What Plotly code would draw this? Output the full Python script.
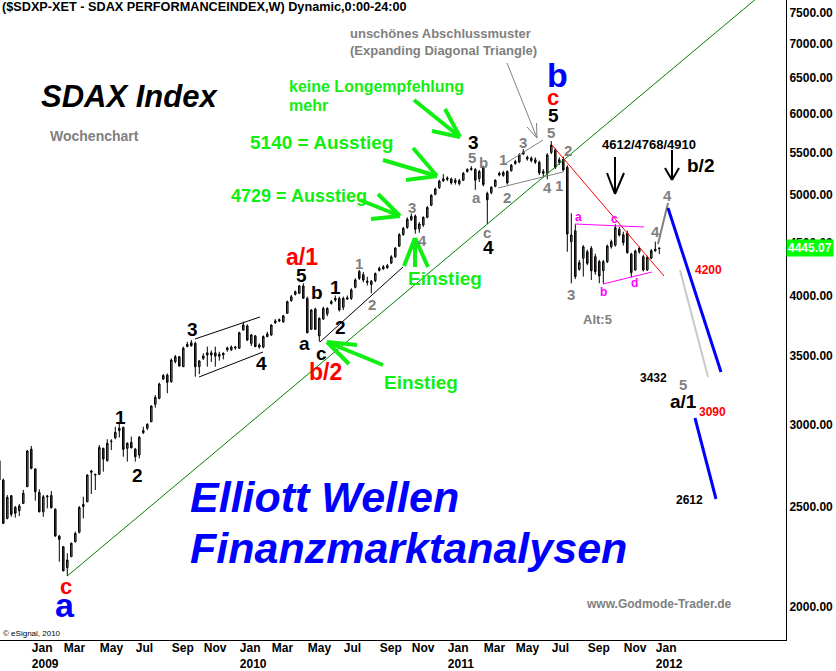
import datetime as dt
import math
import plotly.graph_objects as go

# ---------------- data (weekly bars, first bar = week of 2008-11-10) ----------------
first_week = dt.datetime(2008, 11, 10)

opens = [
    2770, 2653, 2436, 2562, 2497, 2478, 2519, 2614, 2841, 2719, 2581,
    2472, 2555, 2563, 2486, 2342, 2287, 2183, 2237, 2313, 2362,
    2501, 2528, 2699, 2683, 2687, 2847, 2770, 2890, 2915, 2961,
    2983, 2847, 2885, 2843, 2805, 2948, 2977, 3021, 3140, 3182,
    3322, 3351, 3302, 3452, 3491, 3414, 3570, 3601, 3596, 3414,
    3478, 3521, 3504, 3521, 3494, 3505, 3545, 3545, 3560, 3557,
    3705, 3738, 3596, 3656, 3566, 3566, 3651, 3664, 3765, 3780,
    3772, 3845, 3955, 4010, 4020, 4086, 3975, 3710, 3880, 3656,
    3797, 3840, 3930, 3960, 3975, 3897, 3980, 3975, 4074, 4220,
    4190, 4130, 4130, 4135, 4230, 4245, 4255, 4300, 4360, 4465,
    4580, 4655, 4735, 4775, 4640, 4680, 4760, 4890, 5010, 5085,
    5165, 5180, 5185, 5145, 5130, 5170, 5270, 5295, 5295, 5190,
    5320, 5020, 5030, 5100, 5230, 5225, 5270, 5280, 5365, 5385,
    5480, 5420, 5430, 5410, 5380, 5250, 5250, 5500, 5530, 5380,
    5415, 5320, 4509, 4620, 4240, 4346, 4409, 4443, 4361, 4313,
    4227, 4313, 4458, 4475, 4635, 4580, 4594, 4387, 4234, 4409,
    4361, 4234, 4346, 4419, 4440,
]
highs = [
    2790, 2662, 2566, 2566, 2504, 2515, 2595, 2836, 2862, 2723, 2599,
    2566, 2566, 2589, 2491, 2348, 2291, 2254, 2308, 2365, 2504,
    2556, 2687, 2713, 2687, 2868, 2851, 2905, 2905, 2987, 3010,
    2987, 2885, 2922, 2847, 2926, 2987, 3010, 3133, 3205, 3295,
    3358, 3363, 3478, 3504, 3496, 3570, 3609, 3623, 3609, 3465,
    3517, 3570, 3540, 3570, 3530, 3525, 3570, 3580, 3575, 3690,
    3774, 3751, 3672, 3664, 3596, 3660, 3690, 3751, 3795, 3800,
    3831, 3955, 4005, 4045, 4095, 4110, 3990, 3880, 3893, 3810,
    3901, 3897, 3960, 4000, 3990, 3990, 4000, 4065, 4156, 4234,
    4215, 4170, 4140, 4210, 4265, 4280, 4290, 4375, 4455, 4595,
    4660, 4760, 4800, 4790, 4710, 4770, 4880, 5010, 5085, 5175,
    5240, 5215, 5200, 5195, 5185, 5265, 5310, 5335, 5310, 5290,
    5340, 5040, 5100, 5180, 5270, 5280, 5285, 5360, 5410, 5490,
    5540, 5460, 5450, 5440, 5400, 5300, 5490, 5640, 5550, 5440,
    5450, 5345, 4803, 4687, 4329, 4475, 4430, 4465, 4390, 4330,
    4330, 4480, 4530, 4687, 4660, 4610, 4620, 4400, 4430, 4460,
    4380, 4370, 4435, 4509, 4448,
]
lows = [
    2640, 2406, 2431, 2445, 2440, 2449, 2515, 2614, 2717, 2534, 2469,
    2445, 2491, 2491, 2339, 2212, 2165, 2143, 2237, 2308, 2356,
    2436, 2525, 2572, 2595, 2683, 2703, 2764, 2836, 2905, 2917,
    2794, 2764, 2847, 2764, 2784, 2939, 2966, 3017, 3116, 3175,
    3314, 3218, 3294, 3439, 3414, 3414, 3566, 3570, 3339, 3358,
    3465, 3414, 3450, 3414, 3460, 3470, 3530, 3535, 3545, 3553,
    3700, 3615, 3575, 3566, 3553, 3557, 3645, 3656, 3755, 3770,
    3765, 3840, 3945, 4000, 4015, 3975, 3677, 3705, 3705, 3609,
    3788, 3820, 3920, 3945, 3860, 3873, 3960, 3960, 4065, 4141,
    4120, 4090, 4020, 4120, 4220, 4235, 4245, 4290, 4350, 4455,
    4570, 4640, 4720, 4590, 4600, 4660, 4750, 4880, 5000, 5070,
    5150, 5160, 5120, 5120, 5110, 5160, 5260, 5280, 5060, 5150,
    5100, 4690, 5010, 5090, 5215, 5210, 5120, 5270, 5350, 5370,
    5470, 5400, 5380, 5360, 5230, 5200, 5180, 5480, 5300, 5350,
    5270, 4409, 4110, 4150, 4227, 4172, 4280, 4141, 4190, 4111,
    4105, 4300, 4440, 4460, 4560, 4470, 4390, 4166, 4225, 4390,
    4220, 4225, 4340, 4409, 4387,
]
closes = [
    2653, 2409, 2553, 2458, 2464, 2504, 2576, 2830, 2723, 2585, 2472,
    2556, 2560, 2494, 2342, 2325, 2168, 2220, 2305, 2356, 2495,
    2513, 2683, 2707, 2687, 2853, 2780, 2879, 2893, 2950, 2977,
    2841, 2879, 2850, 2794, 2918, 2961, 3003, 3128, 3189, 3285,
    3347, 3297, 3465, 3491, 3419, 3557, 3588, 3577, 3414, 3458,
    3496, 3504, 3521, 3496, 3510, 3517, 3560, 3566, 3566, 3682,
    3746, 3623, 3664, 3570, 3583, 3651, 3672, 3746, 3780, 3790,
    3823, 3945, 3989, 4034, 4086, 3975, 3682, 3873, 3710, 3802,
    3887, 3887, 3945, 3975, 3873, 3975, 3970, 4050, 4141, 4156,
    4140, 4120, 4100, 4200, 4250, 4265, 4275, 4360, 4445, 4580,
    4645, 4740, 4770, 4635, 4690, 4760, 4865, 5000, 5070, 5160,
    5185, 5195, 5140, 5170, 5165, 5250, 5295, 5305, 5170, 5270,
    5120, 4950, 5090, 5170, 5250, 5260, 5140, 5345, 5390, 5470,
    5505, 5440, 5400, 5380, 5255, 5270, 5470, 5590, 5320, 5410,
    5290, 4587, 4576, 4172, 4303, 4458, 4297, 4227, 4218, 4178,
    4313, 4465, 4509, 4651, 4576, 4500, 4400, 4209, 4416, 4443,
    4234, 4355, 4419, 4433, 4445.07,
]
last_close = 4445.07
y_tick_values = [2000, 2500, 3000, 3500, 4000, 4500, 5000, 5500, 6000, 6500, 7000, 7500]
tick_months = [1, 3, 5, 7, 9, 11]
month_names = {1: "Jan", 3: "Mar", 5: "May", 7: "Jul", 9: "Sep", 11: "Nov"}
level_4200 = 4200
level_3090 = 3090

dates = [first_week + dt.timedelta(weeks=k) for k in range(len(opens))]

# ---------------- layout geometry ----------------
FONT = "Liberation Sans, Arial, sans-serif"
W, H = 786.0, 640.0           # plot area in pixels
x_start = first_week + dt.timedelta(weeks=0.175)
x_end = first_week + dt.timedelta(weeks=196.675)
y_lo, y_hi = math.log10(1858.4), math.log10(7720.6)


def px(x):
    return x / W


def py(y):
    return 1 - y / H


# ---------------- month ticks ----------------
tickvals, ticktext = [], []
for yr in range(2009, 2013):
    for m in tick_months:
        d = dt.datetime(yr, m, 1)
        while d.weekday() != 0:
            d += dt.timedelta(days=1)
        if d > dt.datetime(2012, 1, 31):
            continue
        tickvals.append(d)
        ticktext.append(f"<b>{month_names[m]}<br>{yr}</b>" if m == 1 else f"<b>{month_names[m]}</b>")

fig = go.Figure()

fig.add_trace(go.Candlestick(
    x=dates, open=opens, high=highs, low=lows, close=closes,
    increasing=dict(line=dict(color="black", width=1), fillcolor="#00cc00"),
    decreasing=dict(line=dict(color="black", width=1), fillcolor="#cc0000"),
    whiskerwidth=0, showlegend=False, hoverinfo="skip",
))

# long-term green trend line through the 2009 low and the March 2011 low
j0, j1 = 17, 122
slope = (math.log(lows[j1]) - math.log(lows[j0])) / (j1 - j0)
t_end = 205
fig.add_trace(go.Scatter(
    x=[dates[j0], first_week + dt.timedelta(weeks=t_end)],
    y=[lows[j0], math.exp(math.log(lows[j0]) + slope * (t_end - j0))],
    mode="lines", line=dict(color="#008000", width=1),
    showlegend=False, hoverinfo="skip",
))

annotations = []


def label(text, x, y, color="black", size=18, anchor="center", bold=True, italic=False):
    t = text
    if bold:
        t = f"<b>{t}</b>"
    if italic:
        t = f"<i>{t}</i>"
    annotations.append(dict(
        text=t, x=px(x), y=py(y), xref="paper", yref="paper",
        xanchor=anchor, yanchor="middle", showarrow=False,
        font=dict(family=FONT, size=size, color=color)))


shapes = []


def seg(x0, y0, x1, y1, color, width):
    shapes.append(dict(type="line", xref="paper", yref="paper",
                       x0=px(x0), y0=py(y0), x1=px(x1), y1=py(y1),
                       line=dict(color=color, width=width)))


def arrow(start, tip, heads, color, width):
    seg(start[0], start[1], tip[0], tip[1], color, width)
    for h in heads:
        seg(h[0], h[1], tip[0], tip[1], color, width)


GRAY = "#808080"
LIME = "#11ee11"
MAG = "#ff00ff"

# title & headings
label("($SDXP-XET - SDAX PERFORMANCEINDEX,W) Dynamic,0:00-24:00", 0, 7, size=12.7, anchor="left")
label("SDAX Index", 129, 96, size=31, italic=True)
label("Wochenchart", 94, 136, color=GRAY, size=14)
label("unschönes Abschlussmuster", 348, 34, color=GRAY, size=13, anchor="left")
label("(Expanding Diagonal Triangle)", 348, 50, color=GRAY, size=13, anchor="left")
label("keine Longempfehlung", 287, 86, color=LIME, size=16, anchor="left")
label("mehr", 287, 105, color=LIME, size=16, anchor="left")
label("5140 = Ausstieg", 248, 143, color=LIME, size=19, anchor="left")
label("4729 = Ausstieg", 229, 196, color=LIME, size=18, anchor="left")
label("Einstieg", 445, 278, color=LIME, size=19)
label("Einstieg", 421, 382, color=LIME, size=19)
label("Elliott Wellen", 188, 497, color="#0000ff", size=43, anchor="left", italic=True)
label("Finanzmarktanalysen", 188, 548, color="#0000ff", size=43, anchor="left", italic=True)
label("www.Godmode-Trader.de", 659, 604, color=GRAY, size=12)
label("© eSignal, 2010", 1, 633, size=8, anchor="left", bold=False)

# wave counts - black
for t, x, y in [("1", 120, 417), ("2", 137, 475), ("3", 192, 329), ("4", 261, 363),
                ("5", 301, 275), ("b", 317, 292), ("1", 335, 287), ("a", 304, 343),
                ("c", 321, 353), ("2", 340, 327), ("3", 473, 142), ("4", 488, 247),
                ("5", 553, 115), ("a/1", 683, 401), ("b/2", 700, 165)]:
    label(t, x, y, size=19)
# red
for t, x, y, s in [("a/1", 302, 257, 23), ("b/2", 325, 372, 23), ("c", 66, 586, 22), ("c", 553, 98, 22)]:
    label(t, x, y, color="#ff0000", size=s)
# blue
label("a", 65, 605, color="#0000ff", size=34)
label("b", 557, 75, color="#0000ff", size=34)
# gray sub-waves
for t, x, y in [("1", 359, 263), ("2", 372, 304), ("3", 412, 207), ("4", 423, 240),
                ("5", 472, 157), ("b", 484, 163), ("a", 476, 198), ("c", 487, 232),
                ("1", 503, 159), ("2", 507, 197), ("3", 523, 143), ("4", 547, 187),
                ("1", 559, 185), ("5", 551, 132), ("2", 568, 150), ("3", 571, 294),
                ("4", 655, 231), ("4", 667, 195), ("5", 683, 384)]:
    label(t, x, y, color=GRAY, size=15)
label("Alt:5", 597, 319, color=GRAY, size=13)
# magenta triangle points
for t, x, y in [("a", 578, 217), ("c", 614, 219), ("b", 603, 292), ("d", 634, 283)]:
    label(t, x, y, color=MAG, size=12)
# price targets
label("4612/4768/4910", 649, 144, size=13)
label("3432", 653, 378, size=12)
label("2612", 689, 500, size=12)
label(str(level_4200), 708, 270, color="#ff0000", size=12)
label(str(level_3090), 712, 412, color="#ff0000", size=12)

# last price box on the axis
annotations.append(dict(
    text=f"<b>{last_close:.2f}</b>", x=1.0, xref="paper", xanchor="left",
    y=math.log10(last_close), yref="y", yanchor="middle", showarrow=False,
    bgcolor="#00ff00", borderpad=1, font=dict(family=FONT, size=12, color="white")))

# channel / trend lines
seg(195, 339, 260, 317, "black", 1)
seg(199, 377, 263, 352, "black", 1)
seg(320, 342, 403, 267, "black", 1)
seg(503, 165, 543, 140, GRAY, 1)
seg(498, 188, 563, 172, GRAY, 1)
arrow((507, 63), (537, 138), [(527, 127), (536.5, 123)], GRAY, 1)
seg(552, 145, 664, 276, "#ff0000", 1)
seg(575, 224, 644, 227, MAG, 1)
seg(603, 284, 652, 272, MAG, 1)

# green arrows
arrow((414, 100), (460, 137), [(445, 109), (432, 131)], LIME, 4)
arrow((383, 160), (437, 176), [(413, 148), (406, 180)], LIME, 4)
arrow((360, 200), (400, 216), [(378, 194), (371, 219)], LIME, 4)
arrow((415, 267), (415, 238), [(404, 266), (428, 267)], LIME, 4)
arrow((383, 365), (327, 342), [(357, 345), (349, 364)], LIME, 4)

# black arrows
arrow((615, 157), (615, 194), [(607, 173), (624, 173)], "black", 2)
arrow((672, 150), (672, 180), [(665, 168), (679, 168)], "black", 2)

# projections
seg(658, 244, 668, 203, GRAY, 2)
seg(680, 270, 708, 377, "#c8c8c8", 2)
seg(668, 208, 721, 372, "#0000ff", 3)
seg(695, 418, 716, 499, "#0000ff", 3)

# horizontal target levels
for x0, x1, lv in [(655, 678, level_4200), (660, 695, level_3090), (732, 769, level_3090)]:
    shapes.append(dict(type="line", xref="paper", yref="y", x0=px(x0), x1=px(x1),
                       y0=math.log10(lv), y1=math.log10(lv),
                       line=dict(color="#ff0000", width=2)))

fig.update_layout(
    width=836, height=671, autosize=False,
    margin=dict(l=0, r=50, t=0, b=31, autoexpand=False),
    paper_bgcolor="white", plot_bgcolor="white",
    font=dict(family=FONT, color="black"),
    showlegend=False, boxgap=0.45,
    annotations=annotations, shapes=shapes,
    xaxis=dict(
        type="date", range=[x_start, x_end], rangeslider=dict(visible=False),
        automargin=False, tickangle=0,
        showgrid=False, zeroline=False, showline=True, linecolor="black", linewidth=1,
        ticks="", tickvals=tickvals, ticktext=ticktext, ticklabelposition="outside right",
        ticklabelstandoff=-3,
        tickfont=dict(family="Liberation Sans Narrow, Liberation Sans, Arial", size=12, color="black"),
    ),
    yaxis=dict(
        type="log", range=[y_lo, y_hi], side="right", automargin=False,
        showgrid=False, zeroline=False, showline=True, linecolor="black", linewidth=1,
        ticks="", ticklabelstandoff=0,
        tickvals=y_tick_values, ticktext=[f"<b>{v:.2f}</b>" for v in y_tick_values],
        tickfont=dict(family=FONT, size=12, color="black"),
    ),
)

fig.write_html(
    "out.html",
    config={"displayModeBar": False, "staticPlot": True},
    post_script="document.body.style.margin='0';document.body.style.overflow='hidden';",
)
